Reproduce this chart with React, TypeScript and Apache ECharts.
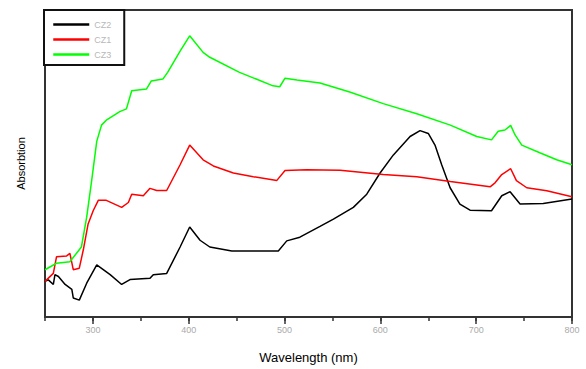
import React, { useEffect, useRef } from "react";
import * as echarts from "echarts";

const seriesNames = ["CZ2", "CZ1", "CZ3"];
const seriesColors = ["#000000", "#ff0000", "#00ff00"];

const waveCZ2 = [250, 253.5, 258.7, 260.4, 264, 271, 278, 279.5, 285.8, 293.5, 304, 318, 330, 338.7, 359.6, 363, 377, 391, 401, 411.8, 422, 445, 493.5, 502.3, 516, 537, 551, 571.8, 585.8, 599.7, 613.6, 631, 641.4, 650, 657, 664, 672.8, 683, 693.6, 716, 726.7, 735.4, 745.8, 770, 800];
const absCZ2 = [0.116, 0.121, 0.106, 0.138, 0.132, 0.106, 0.09, 0.062, 0.055, 0.11, 0.17, 0.138, 0.106, 0.122, 0.126, 0.138, 0.142, 0.228, 0.293, 0.25, 0.228, 0.215, 0.215, 0.248, 0.26, 0.295, 0.319, 0.357, 0.4, 0.469, 0.528, 0.588, 0.607, 0.598, 0.56, 0.496, 0.421, 0.368, 0.348, 0.346, 0.395, 0.408, 0.368, 0.37, 0.384];

const waveCZ1 = [250, 258.7, 262, 272.6, 276, 279.5, 285.8, 290, 295, 300.4, 305.6, 314, 330, 337, 340.5, 352.6, 359.6, 366.6, 377, 391, 401, 415, 425.7, 446.6, 467.4, 492, 500.5, 523, 558, 603, 638, 673, 714.5, 719.7, 726.7, 736, 742, 752.8, 773.7, 800];
const absCZ1 = [0.116, 0.142, 0.196, 0.199, 0.207, 0.154, 0.159, 0.219, 0.303, 0.347, 0.38, 0.38, 0.357, 0.373, 0.4, 0.395, 0.419, 0.412, 0.412, 0.496, 0.56, 0.512, 0.492, 0.469, 0.457, 0.445, 0.477, 0.48, 0.478, 0.464, 0.457, 0.441, 0.424, 0.437, 0.464, 0.483, 0.444, 0.421, 0.411, 0.392];

const waveCZ3 = [250, 262, 276, 288, 293.5, 298.7, 304, 309, 314, 328, 335, 340.5, 356, 361, 373, 378, 391, 401, 415, 422, 453, 488, 495, 500.5, 513, 537, 568, 603, 638, 673, 700.6, 716, 723, 730, 736, 740.6, 747.6, 767, 784, 800];
const absCZ3 = [0.154, 0.175, 0.18, 0.228, 0.325, 0.444, 0.572, 0.625, 0.641, 0.669, 0.678, 0.737, 0.743, 0.769, 0.775, 0.797, 0.866, 0.916, 0.862, 0.846, 0.797, 0.753, 0.75, 0.778, 0.772, 0.762, 0.733, 0.695, 0.662, 0.625, 0.588, 0.577, 0.605, 0.609, 0.624, 0.593, 0.56, 0.534, 0.512, 0.496];

const majorTicks = [300, 400, 500, 600, 700, 800];

const waves = [waveCZ2, waveCZ1, waveCZ3];
const absorb = [absCZ2, absCZ1, absCZ3];

export default function App() {
  const ref = useRef<HTMLDivElement>(null);
  useEffect(() => {
    if (!ref.current) return;
    const chart = echarts.init(ref.current, null, { renderer: "svg" });
    const font = "Liberation Sans, Arial, sans-serif";
    chart.setOption({
      animation: false,
      backgroundColor: "#ffffff",
      textStyle: { fontFamily: font },
      grid: {
        left: 45,
        right: 14,
        top: 10,
        bottom: 49,
        show: true,
        borderColor: "#333333",
        borderWidth: 2,
        containLabel: false,
      },
      legend: {
        orient: "vertical",
        left: 44,
        top: 10,
        itemWidth: 36,
        itemHeight: 8,
        itemGap: 6,
        padding: [10, 13, 6, 8],
        borderColor: "#111111",
        borderWidth: 2,
        backgroundColor: "#ffffff",
        itemStyle: { opacity: 0 },
        lineStyle: { width: 2.5 },
        textStyle: { color: "#b8b8b8", fontSize: 9, fontFamily: font },
        data: seriesNames,
      },
      xAxis: [
        {
          type: "value",
          min: 250,
          max: 800,
          interval: 50,
          axisLine: { show: true, lineStyle: { color: "#333333", width: 2 } },
          axisTick: { show: true, length: 4, lineStyle: { color: "#333333", width: 1.5 } },
          axisLabel: { show: false },
          splitLine: { show: false },
          name: "Wavelength (nm)",
          nameLocation: "middle",
          nameGap: 34,
          nameTextStyle: { color: "#000000", fontSize: 13, fontFamily: font },
        },
        {
          type: "value",
          min: 250,
          max: 800,
          interval: 50,
          position: "bottom",
          axisLine: { show: false },
          axisTick: {
            show: true,
            length: 7,
            customValues: majorTicks,
            lineStyle: { color: "#333333", width: 1.5 },
          },
          axisLabel: {
            show: true,
            customValues: majorTicks,
            color: "#aaaaaa",
            fontSize: 9,
            margin: 8,
            fontFamily: font,
          },
          splitLine: { show: false },
        },
      ],
      yAxis: {
        type: "value",
        min: 0,
        max: 1,
        axisLine: { show: true, lineStyle: { color: "#333333", width: 2 } },
        axisTick: { show: false },
        axisLabel: { show: false },
        splitLine: { show: false },
        name: "Absorbtion",
        nameLocation: "middle",
        nameGap: 19,
        nameTextStyle: { color: "#000000", fontSize: 11, fontFamily: font },
      },
      series: seriesNames.map((name, i) => ({
        name,
        type: "line",
        xAxisIndex: 0,
        symbol: "none",
        smooth: false,
        color: seriesColors[i],
        lineStyle: { color: seriesColors[i], width: 1.5 },
        data: waves[i].map((w, j) => [w, absorb[i][j]]),
      })),
    });
    return () => chart.dispose();
  }, []);
  return (
    <div
      ref={ref}
      style={{ position: "fixed", left: 0, top: 0, width: 586, height: 369 }}
    />
  );
}
